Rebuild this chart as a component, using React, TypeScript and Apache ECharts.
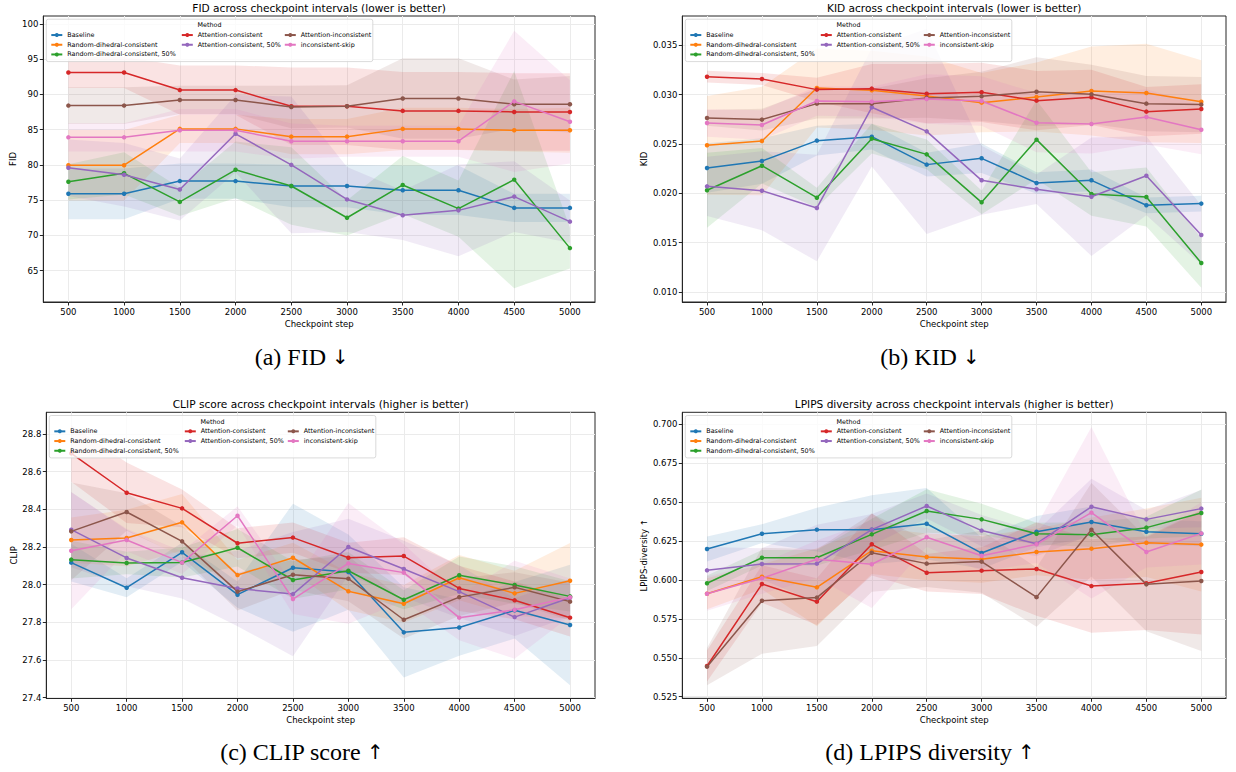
import React, { useEffect, useRef } from 'react';
import * as echarts from 'echarts';

const steps = [500, 1000, 1500, 2000, 2500, 3000, 3500, 4000, 4500, 5000];
const methods = [
  'Baseline',
  'Random-dihedral-consistent',
  'Random-dihedral-consistent, 50%',
  'Attention-consistent',
  'Attention-consistent, 50%',
  'Attention-inconsistent',
  'inconsistent-skip',
];
const colors = ['#1f77b4', '#ff7f0e', '#2ca02c', '#d62728', '#9467bd', '#8c564b', '#e377c2'];

// FID (lower is better) — rows follow `methods`
const fidMean = [
  [75.9, 75.9, 77.7, 77.7, 77.0, 77.0, 76.4, 76.4, 73.9, 73.9],
  [79.95, 79.95, 85.1, 85.1, 84.0, 84.0, 85.1, 85.1, 84.9, 84.9],
  [77.6, 78.8, 74.75, 79.3, 77.0, 72.5, 77.15, 73.8, 77.9, 68.2],
  [93.1, 93.1, 90.6, 90.6, 88.3, 88.3, 87.65, 87.65, 87.5, 87.5],
  [79.6, 78.6, 76.5, 84.4, 80.0, 75.1, 72.85, 73.55, 75.5, 71.95],
  [88.4, 88.4, 89.2, 89.2, 88.2, 88.3, 89.4, 89.4, 88.6, 88.6],
  [83.9, 83.9, 84.9, 84.9, 83.35, 83.35, 83.35, 83.35, 89.0, 86.1],
];
const fidStd = [
  [3.6, 3.6, 2.5, 2.5, 3.0, 3.0, 3.5, 3.5, 2.0, 2.0],
  [5, 5, 2, 2, 2.5, 2.5, 3, 3, 3, 3.2],
  [2.5, 3, 2, 4, 5.5, 2.5, 4.1, 4, 15.4, 2.9],
  [2.2, 2.2, 3.5, 3.5, 5.5, 5.5, 5.5, 5.5, 5.5, 5.5],
  [4, 4.5, 4.4, 5.5, 9.7, 4.6, 3.5, 6.5, 5, 3],
  [2.6, 2.6, 2, 2, 3, 3, 5.7, 5.7, 3.5, 4],
  [2, 2, 3, 3, 2.5, 2.2, 2.2, 2.2, 10, 5.9],
];
const fidTicks = [65, 70, 75, 80, 85, 90, 95, 100];

// KID (lower is better)
const kidMean = [
  [0.02257, 0.02328, 0.02534, 0.02574, 0.02291, 0.02355, 0.02105, 0.02132, 0.01879, 0.01896],
  [0.02487, 0.0253, 0.03068, 0.03044, 0.02987, 0.02919, 0.02976, 0.03037, 0.03017, 0.02929],
  [0.02031, 0.0228, 0.01956, 0.02554, 0.02395, 0.01909, 0.02544, 0.01993, 0.01963, 0.01294],
  [0.03182, 0.03159, 0.03051, 0.03061, 0.0301, 0.03024, 0.02939, 0.02973, 0.02828, 0.02855],
  [0.02071, 0.02027, 0.01852, 0.02872, 0.02628, 0.02132, 0.02041, 0.01966, 0.02179, 0.01578],
  [0.02764, 0.02747, 0.02909, 0.02909, 0.02966, 0.02983, 0.0303, 0.03003, 0.02909, 0.02899],
  [0.02713, 0.02693, 0.02936, 0.02929, 0.02956, 0.02936, 0.02716, 0.02703, 0.02774, 0.02645],
];
const kidStd = [
  [0.0025, 0.0023, 0.0015, 0.0013, 0.0012, 0.0015, 0.0011, 0.0011, 0.0008, 0.0008],
  [0.005, 0.0055, 0.004, 0.004, 0.004, 0.003, 0.0035, 0.0045, 0.005, 0.0042],
  [0.0038, 0.0018, 0.001, 0.0015, 0.0015, 0.0012, 0.004, 0.0022, 0.003, 0.0025],
  [0.0006, 0.0006, 0.0012, 0.0025, 0.003, 0.003, 0.003, 0.0028, 0.0025, 0.0025],
  [0.003, 0.004, 0.0054, 0.006, 0.0104, 0.0035, 0.0015, 0.006, 0.004, 0.003],
  [0.0008, 0.0011, 0.0015, 0.0015, 0.002, 0.0025, 0.0035, 0.003, 0.0028, 0.0028],
  [0.0014, 0.0015, 0.0015, 0.0015, 0.0025, 0.0025, 0.003, 0.003, 0.0028, 0.0025],
];
const kidTicks = [0.01, 0.015, 0.02, 0.025, 0.03, 0.035];

// CLIP score (higher is better)
const clipMean = [
  [28.117, 27.984, 28.172, 27.947, 28.09, 28.067, 27.747, 27.773, 27.864, 27.786],
  [28.237, 28.248, 28.331, 28.051, 28.143, 27.965, 27.899, 28.037, 27.954, 28.021],
  [28.133, 28.115, 28.118, 28.196, 28.025, 28.074, 27.92, 28.05, 27.998, 27.938],
  [28.697, 28.488, 28.405, 28.22, 28.25, 28.143, 28.152, 27.98, 27.917, 27.825],
  [28.292, 28.142, 28.037, 27.98, 27.95, 28.2, 28.083, 27.963, 27.828, 27.931],
  [28.283, 28.386, 28.23, 27.963, 28.053, 28.032, 27.814, 27.934, 27.986, 27.91],
  [28.18, 28.237, 28.117, 28.366, 27.924, 28.113, 28.064, 27.825, 27.867, 27.933],
];
const clipStd = [
  [0.1, 0.05, 0.05, 0.07, 0.34, 0.2, 0.24, 0.15, 0.15, 0.32],
  [0.12, 0.15, 0.15, 0.08, 0.08, 0.1, 0.1, 0.12, 0.12, 0.2],
  [0.1, 0.06, 0.08, 0.1, 0.1, 0.1, 0.05, 0.1, 0.1, 0.08],
  [0.15, 0.16, 0.1, 0.08, 0.08, 0.08, 0.1, 0.12, 0.1, 0.1],
  [0.2, 0.15, 0.11, 0.2, 0.33, 0.15, 0.15, 0.14, 0.1, 0.1],
  [0.26, 0.1, 0.08, 0.1, 0.08, 0.12, 0.1, 0.1, 0.08, 0.1],
  [0.31, 0.06, 0.06, 0.05, 0.08, 0.32, 0.15, 0.12, 0.26, 0.1],
];
const clipTicks = [27.4, 27.6, 27.8, 28.0, 28.2, 28.4, 28.6, 28.8];

// LPIPS diversity (higher is better)
const lpipsMean = [
  [0.6198, 0.6296, 0.6322, 0.6322, 0.636, 0.6172, 0.6309, 0.6371, 0.6309, 0.6296],
  [0.5911, 0.602, 0.5952, 0.6187, 0.6147, 0.6132, 0.6179, 0.62, 0.6238, 0.6226],
  [0.5978, 0.6142, 0.6142, 0.6292, 0.6442, 0.6388, 0.6296, 0.629, 0.6335, 0.6429],
  [0.5447, 0.5973, 0.586, 0.6228, 0.6046, 0.6059, 0.607, 0.596, 0.5978, 0.605],
  [0.6061, 0.6102, 0.6104, 0.6322, 0.6474, 0.6316, 0.6232, 0.6469, 0.6388, 0.6457],
  [0.5443, 0.5866, 0.5886, 0.6174, 0.6104, 0.6117, 0.5889, 0.6322, 0.5971, 0.5993],
  [0.5911, 0.601, 0.6132, 0.61, 0.6273, 0.6155, 0.6228, 0.6431, 0.6179, 0.6298],
];
const lpipsStd = [
  [0.008, 0.006, 0.014, 0.022, 0.023, 0.01, 0.01, 0.01, 0.008, 0.008],
  [0.01, 0.008, 0.025, 0.015, 0.015, 0.015, 0.015, 0.02, 0.022, 0.03],
  [0.005, 0.005, 0.005, 0.01, 0.014, 0.01, 0.007, 0.008, 0.007, 0.015],
  [0.01, 0.012, 0.015, 0.02, 0.012, 0.015, 0.03, 0.03, 0.03, 0.04],
  [0.015, 0.01, 0.025, 0.01, 0.008, 0.01, 0.008, 0.018, 0.006, 0.012],
  [0.012, 0.034, 0.031, 0.025, 0.015, 0.02, 0.019, 0.03, 0.03, 0.045],
  [0.011, 0.01, 0.012, 0.028, 0.006, 0.01, 0.012, 0.055, 0.01, 0.02],
];
const lpipsTicks = [0.525, 0.55, 0.575, 0.6, 0.625, 0.65, 0.675, 0.7];

const FONT = 'DejaVu Sans';
const INK = '#262626';

const panels = [
  {
    title: 'FID across checkpoint intervals (lower is better)',
    yName: 'FID', mean: fidMean, std: fidStd, ticks: fidTicks, dec: 0,
    yMin: 60.56, yMax: 101.1, nameGap: 26,
    grid: { left: 43.3, top: 16, width: 551.7, height: 286 },
    caption: '(a) FID', arrow: '↓', capX: 301.7, capY: 357,
  },
  {
    title: 'KID across checkpoint intervals (lower is better)',
    yName: 'KID', mean: kidMean, std: kidStd, ticks: kidTicks, dec: 3,
    yMin: 0.00899, yMax: 0.03797, nameGap: 34,
    grid: { left: 682.3, top: 16, width: 543.7, height: 286 },
    caption: '(b) KID', arrow: '↓', capX: 930, capY: 357,
  },
  {
    title: 'CLIP score across checkpoint intervals (higher is better)',
    yName: 'CLIP', mean: clipMean, std: clipStd, ticks: clipTicks, dec: 1,
    yMin: 27.397, yMax: 28.915, nameGap: 28,
    grid: { left: 46.3, top: 412.3, width: 548.7, height: 286 },
    caption: '(c) CLIP score', arrow: '↑', capX: 301.7, capY: 752,
  },
  {
    title: 'LPIPS diversity across checkpoint intervals (higher is better)',
    yName: 'LPIPS-diversity ↑', mean: lpipsMean, std: lpipsStd, ticks: lpipsTicks, dec: 3,
    yMin: 0.524, yMax: 0.7075, nameGap: 34,
    grid: { left: 682.3, top: 412.3, width: 543.7, height: 286 },
    caption: '(d) LPIPS diversity', arrow: '↑', capX: 930, capY: 752,
  },
];

const legendCols = [[0, 1, 2], [3, 4], [5, 6]];
const legendColOffsets = [7, 137.5, 240.5];

export default function App() {
  const ref = useRef<HTMLDivElement>(null);
  useEffect(() => {
    const chart = echarts.init(ref.current as HTMLDivElement, null, { renderer: 'svg' });
    const grids: any[] = [];
    const xAxes: any[] = [];
    const yAxes: any[] = [];
    const bandSeries: any[] = [];
    const lineSeries: any[] = [];
    const legends: any[] = [];
    const graphics: any[] = [];

    panels.forEach((p, pi) => {
      const g = p.grid;
      grids.push({
        left: g.left, top: g.top, width: g.width, height: g.height,
        show: true, borderColor: INK, borderWidth: 1, backgroundColor: 'transparent',
      });
      xAxes.push({
        type: 'value', gridIndex: pi, min: 275, max: 5225,
        name: 'Checkpoint step', nameLocation: 'middle', nameGap: 17,
        nameTextStyle: { fontFamily: FONT, fontSize: 8.5, color: '#000' },
        axisLine: { show: true, onZero: false, lineStyle: { color: INK, width: 1 } },
        axisTick: { show: true, length: 3.5, customValues: steps, lineStyle: { color: INK } },
        axisLabel: {
          customValues: steps, fontFamily: FONT, fontSize: 8.5, color: '#000', margin: 5,
          formatter: (v: number) => String(v),
        },
        splitLine: { show: true, lineStyle: { color: '#ebebeb', width: 1 } },
      });
      yAxes.push({
        type: 'value', gridIndex: pi, min: p.yMin, max: p.yMax,
        name: p.yName, nameLocation: 'middle', nameGap: p.nameGap,
        nameTextStyle: { fontFamily: FONT, fontSize: 8.5, color: '#000' },
        axisLine: { show: true, onZero: false, lineStyle: { color: INK, width: 1 } },
        axisTick: { show: true, length: 3.5, customValues: p.ticks, lineStyle: { color: INK } },
        axisLabel: {
          customValues: p.ticks, fontFamily: FONT, fontSize: 8.5, color: '#000', margin: 5,
          formatter: (v: number) => v.toFixed(p.dec),
        },
        splitLine: { show: true, lineStyle: { color: '#ebebeb', width: 1 } },
      });

      methods.forEach((m, mi) => {
        const mean = p.mean[mi];
        const std = p.std[mi];
        const color = colors[mi];
        const bandData = steps.map((s, k) => [s, mean[k] - std[k], mean[k] + std[k]]);
        bandSeries.push({
          type: 'custom', name: `${m} (band)`, xAxisIndex: pi, yAxisIndex: pi,
          data: [[0]], silent: true, z: 1, clip: true,
          encode: { x: 0, y: 0 },
          renderItem: (params: any, api: any) => {
            const upper = bandData.map((d) => api.coord([d[0], d[2]]));
            const lower = bandData.map((d) => api.coord([d[0], d[1]])).reverse();
            return {
              type: 'polygon',
              shape: { points: [...upper, ...lower] },
              style: { fill: color, opacity: 0.13 },
              silent: true,
            };
          },
        });
        lineSeries.push({
          type: 'line', name: m, xAxisIndex: pi, yAxisIndex: pi,
          data: steps.map((s, k) => [s, mean[k]]),
          symbol: 'circle', symbolSize: 4.5, showSymbol: true,
          itemStyle: { color },
          lineStyle: { color, width: 1.5 },
          z: 3,
        });
      });

      legendCols.forEach((col, ci) => {
        legends.push({
          data: col.map((i) => methods[i]),
          orient: 'vertical',
          left: g.left + legendColOffsets[ci],
          top: g.top + 14.2,
          padding: 0,
          itemGap: 0,
          itemWidth: 11,
          itemHeight: 5,
          selectedMode: false,
          textStyle: { fontFamily: FONT, fontSize: 6.4, color: '#000', lineHeight: 9.7 },
          z: 6,
        });
      });

      graphics.push({
        type: 'rect', z: 5,
        shape: { x: g.left + 3, y: g.top + 3.2, width: 326.5, height: 42.4, r: 2 },
        style: { fill: 'rgba(255,255,255,0.8)', stroke: '#d0d0d0', lineWidth: 0.8 },
      });
      graphics.push({
        type: 'text', z: 7, x: g.left + 3 + 163.2, y: g.top + 9.3,
        style: { text: 'Method', fontFamily: FONT, fontSize: 6.4, fill: '#000', textAlign: 'center', textVerticalAlign: 'middle' },
      });
      graphics.push({
        type: 'text', z: 7, x: g.left + g.width / 2, y: g.top - 8.3,
        style: { text: p.title, fontFamily: FONT, fontSize: 10.6, fill: '#000', textAlign: 'center', textVerticalAlign: 'middle' },
      });
      graphics.push({
        type: 'text', z: 7, x: p.capX, y: p.capY,
        style: {
          text: `{t|${p.caption} }{r|${p.arrow}}`,
          textAlign: 'center', textVerticalAlign: 'middle',
          rich: {
            t: { fontFamily: 'Liberation Serif', fontSize: 24, fill: '#000' },
            r: { fontFamily: 'DejaVu Sans', fontSize: 20, fill: '#000' },
          },
        },
      });
    });

    chart.setOption({
      animation: false,
      backgroundColor: '#ffffff',
      grid: grids,
      xAxis: xAxes,
      yAxis: yAxes,
      legend: legends,
      series: [...bandSeries, ...lineSeries],
      graphic: graphics,
    });
    return () => chart.dispose();
  }, []);
  return (
    <div
      ref={ref}
      style={{ position: 'absolute', left: 0, top: 0, width: 1236, height: 772 }}
    />
  );
}
